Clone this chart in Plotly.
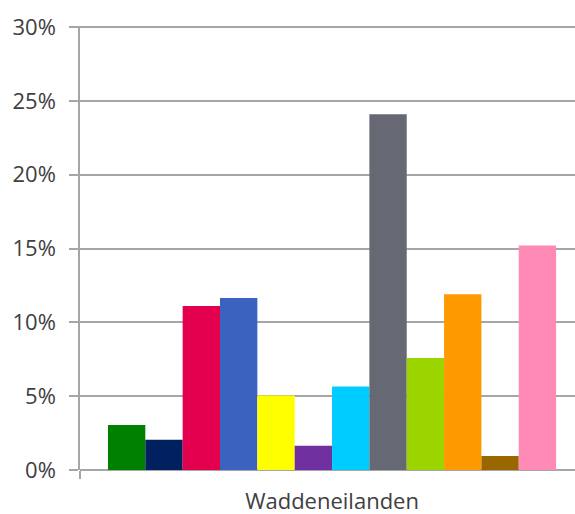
import plotly.graph_objects as go

category = ['Waddeneilanden']
series_names = ['Serie 1', 'Serie 2', 'Serie 3', 'Serie 4', 'Serie 5', 'Serie 6',
                'Serie 7', 'Serie 8', 'Serie 9', 'Serie 10', 'Serie 11', 'Serie 12']
values = [0.0305, 0.0205, 0.111, 0.1165, 0.0505, 0.0165,
          0.0565, 0.241, 0.0758, 0.119, 0.0095, 0.152]
colors = ['#008000', '#002060', '#E3004F', '#3A63BF', '#FFFF00', '#7030A0',
          '#00CCFF', '#666873', '#9CD400', '#FF9900', '#996600', '#FF8AB6']
y_ticks = [0, 0.05, 0.10, 0.15, 0.20, 0.25, 0.30]

fig = go.Figure()
for name, val, col in zip(series_names, values, colors):
    fig.add_trace(go.Bar(x=[0], y=[val], name=name, marker_color=col,
                         marker_line_width=0))

fig.update_layout(
    barmode='group',
    bargap=0.111,
    bargroupgap=0,
    showlegend=False,
    width=575,
    height=514,
    margin=dict(l=80, r=0, t=26, b=44),
    plot_bgcolor='white',
    paper_bgcolor='white',
    font=dict(family='Open Sans', size=22, color='#404040'),
)
fig.update_xaxes(
    range=[-0.5, 0.482],
    tickmode='array',
    tickvals=[0],
    ticktext=category,
    ticks='',
    ticklabelstandoff=16,
    showgrid=False,
    zeroline=False,
    showline=False,
    automargin=False,
    minor=dict(tickmode='array', tickvals=[-0.5], ticks='outside',
               ticklen=8, tickcolor='#A6A6A6', tickwidth=1.5, showgrid=False),
)
fig.update_yaxes(
    range=[0, 0.3007],
    tickmode='array',
    tickvals=y_ticks,
    tickformat='.0%',
    showgrid=True,
    gridcolor='#A6A6A6',
    gridwidth=1.5,
    zeroline=True,
    zerolinecolor='#A6A6A6',
    zerolinewidth=1.5,
    showline=True,
    linecolor='#A6A6A6',
    linewidth=1.5,
    ticks='outside',
    ticklen=9,
    tickcolor='#A6A6A6',
    tickwidth=1.5,
    ticklabelstandoff=9,
    automargin=False,
)

fig.write_html('out.html', config={'displayModeBar': False},
               post_script="document.body.style.margin='0';")
